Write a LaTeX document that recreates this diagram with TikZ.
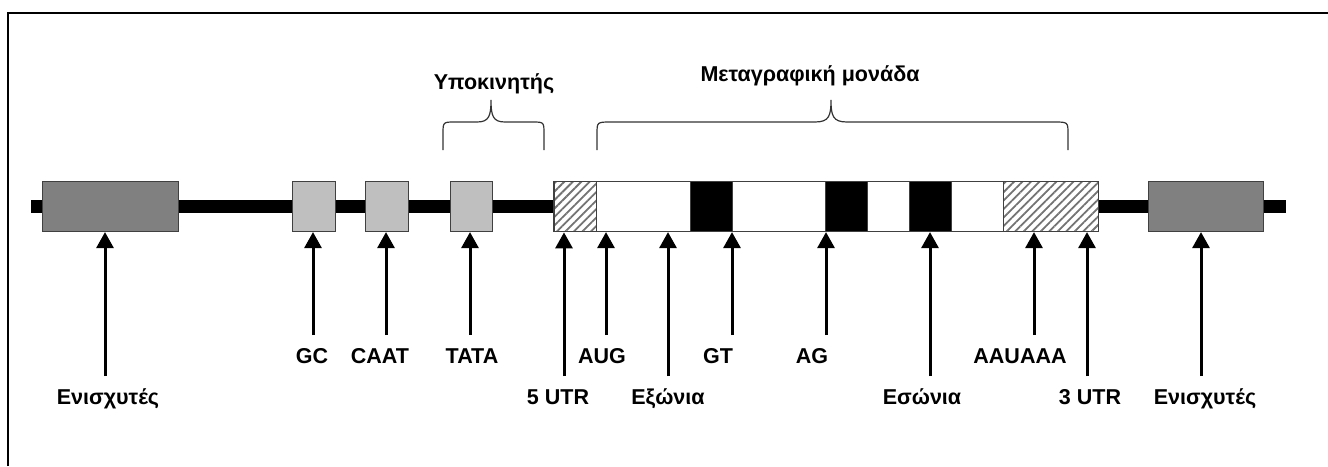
\documentclass[tikz,border=0pt]{standalone}
\usepackage{fontspec}
\setmainfont{Liberation Sans}
\usetikzlibrary{arrows.meta,patterns.meta,positioning}

\tikzset{
  box/.style={draw=black!75,line width=1.2pt,minimum height=50pt,inner sep=0pt,anchor=west},
  enh/.style={box,fill=black!50},
  prom/.style={box,fill=black!25},
  utr/.style={box,preaction={fill=white},pattern={Lines[angle=45,distance=6pt,line width=1.8pt]},pattern color=black!55},
  exon/.style={box,fill=white},
  intron/.style={box,fill=black},
  arr/.style={-{Triangle[width=17pt,length=16pt]},line width=3pt},
  lbl/.style={font=\bfseries\fontsize{21.5}{24}\selectfont,anchor=base,inner sep=0pt},
  brace/.style={line width=1.2pt,black!80}
}

\begin{document}
\begin{tikzpicture}[x=1pt,y=-1pt]
  \useasboundingbox (0,0) rectangle (1328,466);
  \draw [line width=2pt] (8,466) -- (8,13) -- (1328,13);

  \coordinate (dnaL) at (31,206.5);
  \coordinate (dnaR) at (1286,206.5);
  \draw [line width=13pt] (dnaL) -- (dnaR);

  \node [enh,minimum width=136pt] (enhL) at (42,206.5) {};
  \node [prom,minimum width=43pt] (gc) at (292,206.5) {};
  \node [prom,minimum width=43pt] (caat) at (365,206.5) {};
  \node [prom,minimum width=42pt] (tata) at (450,206.5) {};
  \node [utr,minimum width=43pt] (utr5) at (553,206.5) {};
  \node [exon,minimum width=94pt] (ex1) at (596,206.5) {};
  \node [intron,minimum width=42pt] (in1) at (690,206.5) {};
  \node [exon,minimum width=93pt] (ex2) at (732,206.5) {};
  \node [intron,minimum width=42pt] (in2) at (825,206.5) {};
  \node [exon,minimum width=42pt] (ex3) at (867,206.5) {};
  \node [intron,minimum width=42pt] (in3) at (909,206.5) {};
  \node [exon,minimum width=52pt] (ex4) at (951,206.5) {};
  \node [utr,minimum width=95pt] (utr3) at (1003,206.5) {};
  \node [enh,minimum width=115pt] (enhR) at (1148,206.5) {};

  \draw [brace] (443,150) -- (443,134) .. controls (443,122) .. (455,122)
    -- (477,122) .. controls (489,122) and (491,116) .. (491,100)
    .. controls (491,116) and (493,122) .. (505,122)
    -- (532,122) .. controls (544,122) .. (544,134) -- (544,150);
  \draw [brace] (597,150) -- (597,134) .. controls (597,122) .. (611,122)
    -- (815,122) .. controls (829,122) and (831,116) .. (831,100)
    .. controls (831,116) and (833,122) .. (847,122)
    -- (1054,122) .. controls (1068,122) .. (1068,134) -- (1068,150);
  \node [lbl] (promlbl) at (494,89) {Υποκινητής};
  \node [lbl] (unitlbl) at (810,81) {Μεταγραφική μονάδα};

  \coordinate (tEnhL) at (105,376);
  \draw [arr] (tEnhL) -- (tEnhL |- enhL.south);
  \node [lbl] (lEnhL) at (108,404) {Ενισχυτές};

  \coordinate (tGC) at (313,335);
  \draw [arr] (tGC) -- (tGC |- gc.south);
  \node [lbl] (lGC) at (312,363) {GC};

  \coordinate (tCAAT) at (386,335);
  \draw [arr] (tCAAT) -- (tCAAT |- caat.south);
  \node [lbl] (lCAAT) at (380,363) {CAAT};

  \coordinate (tTATA) at (470,335);
  \draw [arr] (tTATA) -- (tTATA |- tata.south);
  \node [lbl] (lTATA) at (472,363) {TATA};

  \coordinate (tUTR5) at (564,376);
  \draw [arr] (tUTR5) -- (tUTR5 |- utr5.south);
  \node [lbl] (lUTR5) at (558,404) {5 UTR};

  \coordinate (tAUG) at (606,335);
  \draw [arr] (tAUG) -- (tAUG |- ex1.south);
  \node [lbl] (lAUG) at (602,363) {AUG};

  \coordinate (tExon) at (668,376);
  \draw [arr] (tExon) -- (tExon |- ex1.south);
  \node [lbl] (lExon) at (668,404) {Εξώνια};

  \coordinate (tGT) at (732,335);
  \draw [arr] (tGT) -- (tGT |- in1.south);
  \node [lbl] (lGT) at (718,363) {GT};

  \coordinate (tAG) at (826,335);
  \draw [arr] (tAG) -- (tAG |- in2.south);
  \node [lbl] (lAG) at (812,363) {AG};

  \coordinate (tIntron) at (930,376);
  \draw [arr] (tIntron) -- (tIntron |- in3.south);
  \node [lbl] (lIntron) at (922,404) {Εσώνια};

  \coordinate (tPolyA) at (1034,335);
  \draw [arr] (tPolyA) -- (tPolyA |- utr3.south);
  \node [lbl] (lPolyA) at (1020,363) {AAUAAA};

  \coordinate (tUTR3) at (1087,376);
  \draw [arr] (tUTR3) -- (tUTR3 |- utr3.south);
  \node [lbl] (lUTR3) at (1090,404) {3 UTR};

  \coordinate (tEnhR) at (1201,376);
  \draw [arr] (tEnhR) -- (tEnhR |- enhR.south);
  \node [lbl] (lEnhR) at (1205,404) {Ενισχυτές};
\end{tikzpicture}
\end{document}
